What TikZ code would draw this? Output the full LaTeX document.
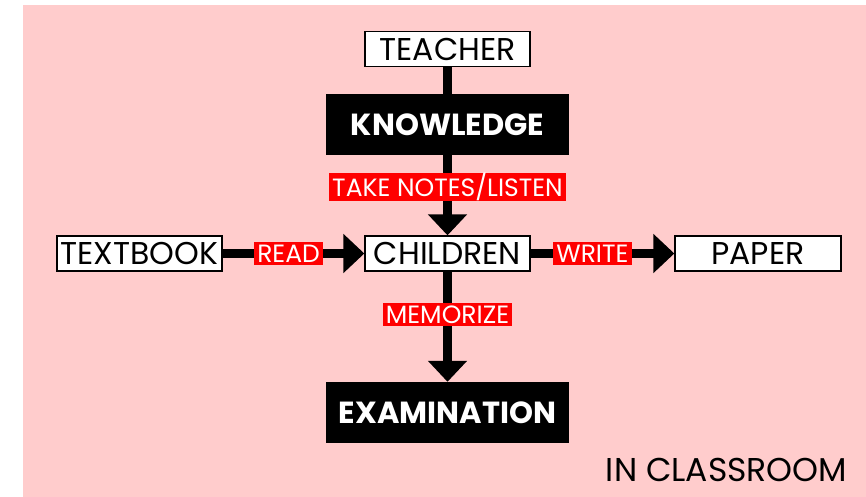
\documentclass[tikz,border=0pt]{standalone}
\usepackage{fontspec}
\setmainfont{Poppins}
\usetikzlibrary{arrows.meta}
\definecolor{bgpink}{RGB}{255,204,204}
\definecolor{lblred}{RGB}{255,0,0}
\begin{document}
\begin{tikzpicture}[x=1pt,y=-1pt,
  whitebox/.style={draw=black,line width=1.3pt,fill=white,inner sep=0pt,
    minimum width=165pt,minimum height=35pt,font=\fontsize{31.5}{31.5}\selectfont},
  blackbox/.style={fill=black,text=white,inner sep=0pt,
    minimum width=243pt,minimum height=61pt,font=\fontsize{30.5}{30.5}\selectfont\bfseries},
  flow/.style={line width=9pt,-{Triangle[width=38pt,length=21pt]}},
  lbl/.style={fill=lblred,text=white,inner xsep=3pt,inner ysep=0pt,
    minimum height=23pt,font=\fontsize{25}{25}\selectfont},
  captiontext/.style={font=\fontsize{33}{33}\selectfont}]
\useasboundingbox (0,0) rectangle (866,497);
\fill[bgpink] (23,5) rectangle (866,497);
\node[whitebox] (teacher) at (447.5,49) {TEACHER};
\node[blackbox] (knowledge) at (447.5,124.5) {KNOWLEDGE};
\node[whitebox] (textbook) at (139.5,253.5) {TEXTBOOK};
\node[whitebox] (children) at (447.5,253.5) {CHILDREN};
\node[whitebox,minimum width=166pt] (paper) at (758,253.5) {PAPER};
\node[blackbox] (exam) at (447.5,412.5) {EXAMINATION};
\node[captiontext] (room) at (726.5,470) {IN CLASSROOM};
\draw[line width=9pt] (teacher) -- (knowledge);
\draw[flow] (knowledge) -- node[lbl,pos=0.40] (l1) {TAKE NOTES/LISTEN} (children);
\draw[flow] (textbook) -- node[lbl,pos=0.465] (l2) {READ} (children);
\draw[flow] (children) -- node[lbl,pos=0.43] (l3) {WRITE} (paper);
\draw[flow] (children) -- node[lbl,pos=0.39] (l4) {MEMORIZE} (exam);
\end{tikzpicture}
\end{document}
